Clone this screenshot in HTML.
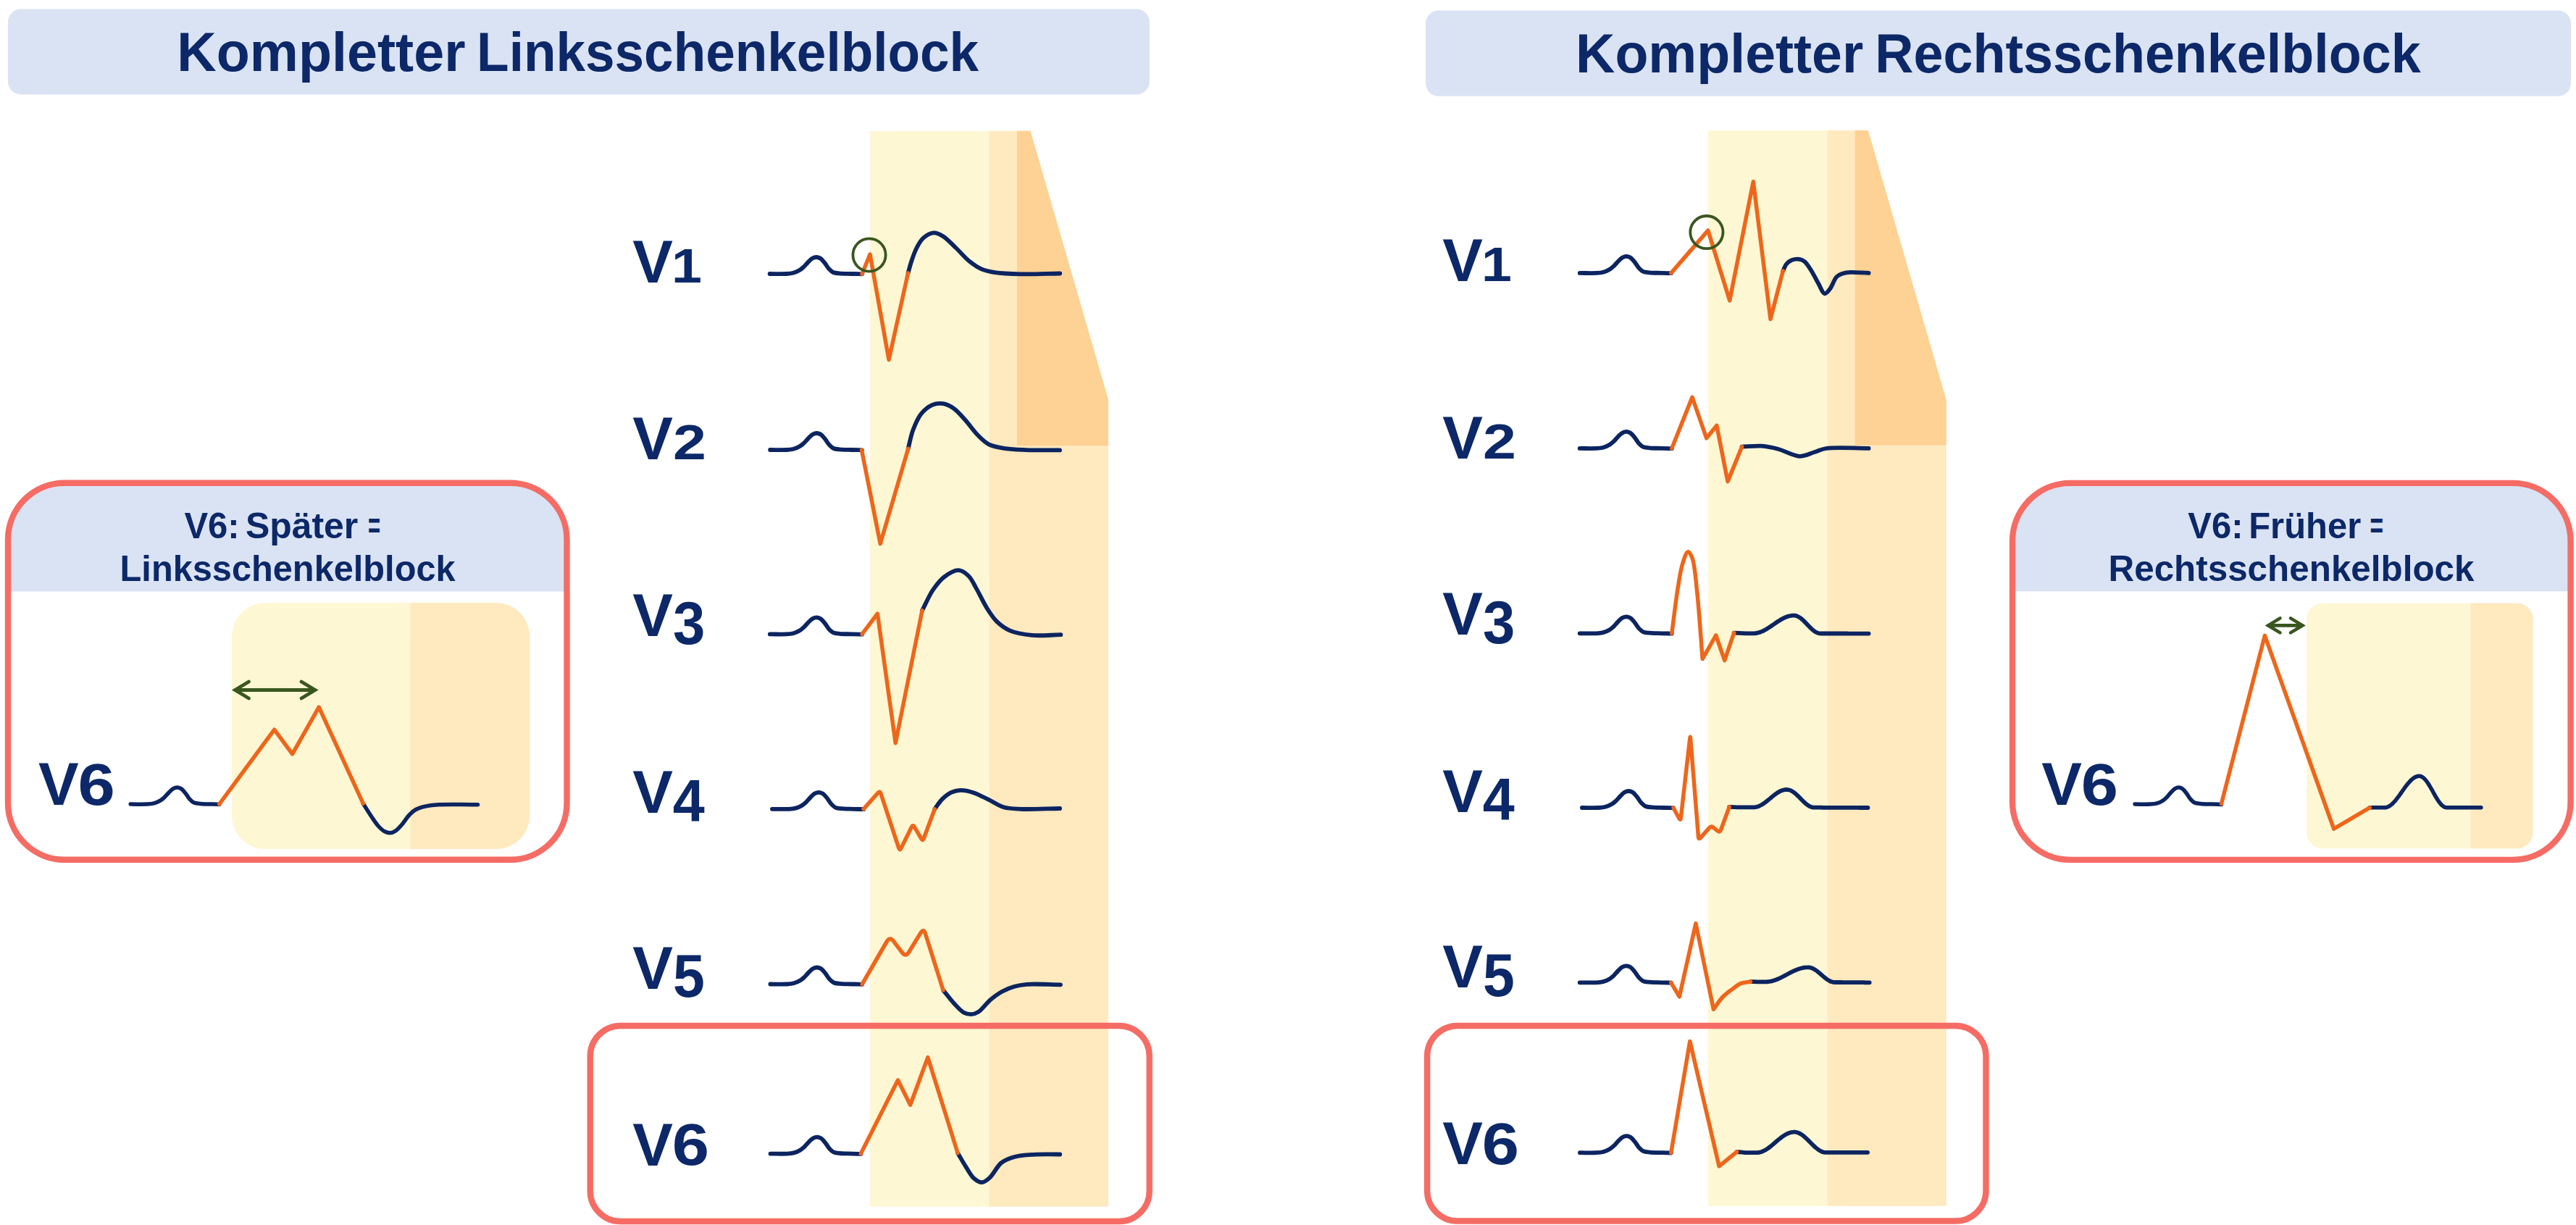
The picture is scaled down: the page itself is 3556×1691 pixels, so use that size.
<!DOCTYPE html>
<html><head><meta charset="utf-8"><title>Schenkelblock</title>
<style>html,body{margin:0;padding:0;background:#fff;width:3556px;height:1691px;overflow:hidden}svg{display:block}text{font-family:"Liberation Sans",sans-serif;font-weight:bold}</style>
</head><body>
<svg width="3556" height="1691" viewBox="0 0 3556 1691">
<rect width="3556" height="1691" fill="#ffffff"/>
<rect x="11" y="12.4" width="1575.8" height="118" rx="18" fill="#dae3f3"/>
<rect x="1968" y="14.4" width="1581" height="118.4" rx="18" fill="#dae3f3"/>
<rect x="1201" y="180.8" width="164.5" height="1485.0" fill="#fef7d4"/>
<polygon points="1365.5,180.8 1422.4,180.8 1530,552 1530,1665.8 1365.5,1665.8" fill="#ffe9bf"/>
<polygon points="1404,180.8 1422.4,180.8 1530,552 1530,615.3 1404,615.3" fill="#fed194"/>
<rect x="2358" y="180" width="164.4000000000001" height="1484.8" fill="#fef7d4"/>
<polygon points="2522.4,180 2578.7,180 2686.8,552.6 2686.8,1664.8 2522.4,1664.8" fill="#ffe9bf"/>
<polygon points="2560.6,180 2578.7,180 2686.8,552.6 2686.8,614.6 2560.6,614.6" fill="#fed194"/>
<clipPath id="cl"><rect x="11" y="666.7" width="771.5" height="520" rx="78"/></clipPath>
<clipPath id="cr"><rect x="2778" y="666.9" width="770.6" height="520" rx="80"/></clipPath>
<rect x="11" y="666.7" width="771.5" height="520" rx="78" fill="#fff"/>
<rect x="0" y="650" width="800" height="166.5" fill="#dae3f3" clip-path="url(#cl)"/>
<rect x="11" y="666.7" width="771.5" height="520" rx="78" fill="none" stroke="#f56c65" stroke-width="8.4"/>
<rect x="320" y="832.3" width="411" height="339.7" rx="46" fill="#fef7d4"/>
<path d="M566.3 832.3 H685 A46 46 0 0 1 731 878.3 V1126 A46 46 0 0 1 685 1172 H566.3 Z" fill="#ffe9bf"/>
<rect x="2778" y="666.9" width="770.6" height="520" rx="80" fill="#fff"/>
<rect x="2760" y="650" width="800" height="166.3" fill="#dae3f3" clip-path="url(#cr)"/>
<rect x="2778" y="666.9" width="770.6" height="520" rx="80" fill="none" stroke="#f56c65" stroke-width="8.4"/>
<rect x="3184.2" y="832.7" width="312.3" height="338.6" rx="22" fill="#fef7d4"/>
<path d="M3410.5 832.7 H3474.5 A22 22 0 0 1 3496.5 854.7 V1149.3 A22 22 0 0 1 3474.5 1171.3 H3410.5 Z" fill="#ffe9bf"/>
<rect x="814.7" y="1416" width="772" height="270" rx="42" fill="none" stroke="#f56c65" stroke-width="8.4"/><rect x="1970.1" y="1416" width="771.4" height="269.5" rx="42" fill="none" stroke="#f56c65" stroke-width="8.4"/>
<path d="M1062.6 378 C1070.3 378 1079.6 378.4 1085.6 378 C1089.4 377.8 1091.9 377.6 1094.9 376.8 C1097.9 376 1101.1 374.6 1103.6 373.1 C1105.8 371.8 1107.5 370.2 1109.4 368.5 C1111.4 366.6 1113.3 364.1 1115.3 362.1 C1117.2 360.2 1119 358 1121.1 356.8 C1123.1 355.7 1125.5 354.9 1127.5 355 C1129.3 355.1 1131 355.7 1132.7 356.8 C1134.8 358.2 1136.7 360.9 1138.6 363.2 C1140.6 365.7 1142.3 369.1 1144.4 371.3 C1146.2 373.2 1147.9 375 1150.2 376 C1152.7 377.1 1155.5 377.1 1158.9 377.4 C1163.6 377.9 1170.2 377.8 1175.6 378 C1180.6 378.1 1185.2 378.2 1190 378.3" fill="none" stroke="#0c2460" stroke-width="5.8" stroke-linecap="round" stroke-linejoin="round"/>
<path d="M1253.5 377 C1255.1 371.3 1256.5 365.7 1258.4 360 C1260.4 354 1262.7 347.4 1265.5 342 C1268.1 337 1270.6 332 1274.5 328.6 C1278.4 325.2 1284.2 321.7 1288.9 321.4 C1293.2 321.2 1297.2 323.4 1301.5 326 C1307.3 329.5 1313.5 336.4 1319.4 342 C1325.5 347.7 1331.1 354.9 1337.4 360 C1343.2 364.7 1349.2 369 1355.4 371.7 C1361.2 374.2 1366.2 375.1 1373.3 376.2 C1383.2 377.7 1396.1 378.1 1409.3 378.4 C1425.5 378.8 1445.2 377.8 1463.2 377.5" fill="none" stroke="#0c2460" stroke-width="5.8" stroke-linecap="round" stroke-linejoin="round"/>
<path d="M1190 378.2 L1201 351 L1227 496.6 L1253.5 377" fill="none" stroke="#ee661a" stroke-width="5.5" stroke-linecap="round" stroke-linejoin="round"/>
<path d="M1063.1 621 C1070.8 621 1080.1 621.4 1086.1 621 C1089.9 620.8 1092.4 620.6 1095.4 619.8 C1098.4 619 1101.6 617.6 1104.1 616.1 C1106.3 614.8 1108 613.2 1109.9 611.5 C1111.9 609.6 1113.8 607.1 1115.8 605.1 C1117.7 603.2 1119.5 601 1121.6 599.8 C1123.6 598.7 1126 597.9 1128 598 C1129.8 598.1 1131.5 598.7 1133.2 599.8 C1135.3 601.2 1137.2 603.9 1139.1 606.2 C1141.1 608.7 1142.8 612.1 1144.9 614.3 C1146.7 616.2 1148.4 618 1150.7 619 C1153.2 620.1 1156 620.1 1159.4 620.4 C1164.1 620.9 1170.8 620.8 1176.1 621 C1180.9 621.1 1185.3 621.2 1189.9 621.3" fill="none" stroke="#0c2460" stroke-width="5.8" stroke-linecap="round" stroke-linejoin="round"/>
<path d="M1253.7 619.2 C1255.9 610.7 1257.3 601.9 1260.3 593.8 C1263.3 585.9 1266.8 577.3 1271.6 571.3 C1275.8 566.1 1281.3 561.4 1286.6 559.1 C1291.3 557.1 1296.7 556.5 1301.6 557.2 C1306.7 557.9 1311.9 560.6 1316.6 563.8 C1322 567.5 1326.4 573.2 1331.6 578.8 C1337.7 585.4 1344.2 595.2 1350.4 601.3 C1355.4 606.3 1359.5 610.6 1365.4 613.6 C1371.9 616.8 1380 617.9 1388 619.2 C1396.8 620.6 1405.5 620.7 1416.1 621.1 C1429.7 621.6 1447.4 621.3 1463 621.4" fill="none" stroke="#0c2460" stroke-width="5.8" stroke-linecap="round" stroke-linejoin="round"/>
<path d="M1189.5 621.3 L1215.2 750.6 L1253.7 619.2" fill="none" stroke="#ee661a" stroke-width="5.5" stroke-linecap="round" stroke-linejoin="round"/>
<path d="M1062.8 875.4 C1070.5 875.4 1079.8 875.8 1085.8 875.4 C1089.6 875.2 1092.1 875 1095.1 874.2 C1098.1 873.4 1101.3 872 1103.8 870.5 C1106 869.2 1107.7 867.6 1109.6 865.9 C1111.6 864 1113.5 861.5 1115.5 859.5 C1117.4 857.6 1119.2 855.4 1121.3 854.2 C1123.3 853.1 1125.7 852.3 1127.7 852.4 C1129.5 852.5 1131.2 853.1 1132.9 854.2 C1135 855.6 1136.9 858.3 1138.8 860.6 C1140.8 863.1 1142.5 866.5 1144.6 868.7 C1146.4 870.6 1148.1 872.4 1150.4 873.4 C1152.9 874.5 1155.7 874.5 1159.1 874.8 C1163.8 875.3 1170.5 875.2 1175.8 875.4 C1180.7 875.5 1185.3 875.6 1190 875.7" fill="none" stroke="#0c2460" stroke-width="5.8" stroke-linecap="round" stroke-linejoin="round"/>
<path d="M1273 842.7 C1278 833.2 1282.4 822.2 1288 814.1 C1292.8 807.2 1297.5 800.9 1303.5 796.4 C1309.3 792 1317.4 787 1323.3 787.2 C1328.3 787.4 1333.1 791.3 1337 795 C1341.4 799.2 1343.8 805.5 1347.5 811.9 C1352.3 820.1 1357.7 832.3 1363 840.5 C1367.3 847.3 1371 853.2 1376.2 858.2 C1381.3 863.1 1386.8 867.3 1393.8 870.3 C1402.4 874 1413.7 875.8 1424.7 876.9 C1437 878.1 1451.2 876.4 1464.4 876.2" fill="none" stroke="#0c2460" stroke-width="5.8" stroke-linecap="round" stroke-linejoin="round"/>
<path d="M1190 875.4 L1211.3 847.1 L1236.2 1025.7 L1273 842.7" fill="none" stroke="#ee661a" stroke-width="5.5" stroke-linecap="round" stroke-linejoin="round"/>
<path d="M1065.9 1116.8 C1073.6 1116.8 1082.9 1117.2 1088.9 1116.8 C1092.7 1116.6 1095.2 1116.4 1098.2 1115.6 C1101.2 1114.8 1104.4 1113.4 1106.9 1111.9 C1109.1 1110.6 1110.8 1109 1112.7 1107.3 C1114.7 1105.4 1116.6 1102.9 1118.6 1100.9 C1120.5 1099 1122.3 1096.8 1124.4 1095.6 C1126.4 1094.5 1128.8 1093.7 1130.8 1093.8 C1132.6 1093.9 1134.3 1094.5 1136 1095.6 C1138.1 1097 1140 1099.7 1141.9 1102 C1143.9 1104.5 1145.6 1107.9 1147.7 1110.1 C1149.5 1112 1151.2 1113.8 1153.5 1114.8 C1156 1115.9 1158.8 1115.9 1162.2 1116.2 C1166.9 1116.7 1173.7 1116.6 1178.9 1116.8 C1183.5 1116.9 1187.6 1117 1192 1117.1" fill="none" stroke="#0c2460" stroke-width="5.8" stroke-linecap="round" stroke-linejoin="round"/>
<path d="M1290.4 1116.8 C1293.7 1112.3 1296.5 1107.3 1300.4 1103.4 C1304.3 1099.6 1309.1 1095.8 1313.7 1093.7 C1317.8 1091.9 1321.7 1091 1326.3 1090.9 C1331.6 1090.8 1337.9 1092.3 1343.8 1094.2 C1350.4 1096.3 1357 1100.1 1363.8 1103.4 C1370.9 1106.8 1377.9 1112.1 1385.5 1114.3 C1393 1116.5 1399.5 1116.4 1408.9 1116.8 C1423.2 1117.5 1445 1116.3 1463.1 1116" fill="none" stroke="#0c2460" stroke-width="5.8" stroke-linecap="round" stroke-linejoin="round"/>
<path d="M1192 1116.8 L1211.9 1094.6 Q1214.6 1091.6 1215.9 1095.4 L1240.7 1170.7 Q1242 1174.5 1243.8 1170.9 L1258.5 1141.6 Q1260.3 1138 1262.3 1141.5 L1271.7 1157.7 Q1273.7 1161.2 1275.1 1157.5 L1290.4 1116.8" fill="none" stroke="#ee661a" stroke-width="5.5" stroke-linecap="round" stroke-linejoin="round"/>
<path d="M1063.4 1358.5 C1071.1 1358.5 1080.4 1358.9 1086.4 1358.5 C1090.2 1358.3 1092.7 1358.1 1095.7 1357.3 C1098.7 1356.5 1101.9 1355.1 1104.4 1353.6 C1106.6 1352.3 1108.3 1350.7 1110.2 1349 C1112.2 1347.1 1114.1 1344.6 1116.1 1342.6 C1118 1340.7 1119.8 1338.5 1121.9 1337.3 C1123.9 1336.2 1126.3 1335.4 1128.3 1335.5 C1130.1 1335.6 1131.8 1336.2 1133.5 1337.3 C1135.6 1338.7 1137.5 1341.4 1139.4 1343.7 C1141.4 1346.2 1143.1 1349.6 1145.2 1351.8 C1147 1353.7 1148.7 1355.5 1151 1356.5 C1153.5 1357.6 1156.3 1357.6 1159.7 1357.9 C1164.4 1358.4 1171.1 1358.3 1176.4 1358.5 C1181.2 1358.6 1185.6 1358.7 1190.2 1358.8" fill="none" stroke="#0c2460" stroke-width="5.8" stroke-linecap="round" stroke-linejoin="round"/>
<path d="M1302 1366.8 C1307 1372.9 1312.1 1379.8 1317.1 1385.2 C1321.5 1389.9 1326 1395.3 1330.4 1397.7 C1333.7 1399.5 1337.1 1400.3 1340.4 1400.2 C1343.8 1400.1 1347 1399.1 1350.5 1396.9 C1355.7 1393.7 1361.3 1385.1 1367.1 1380.2 C1372.5 1375.7 1378 1371.6 1383.8 1368.5 C1389.2 1365.6 1394.8 1363.4 1400.5 1361.8 C1406 1360.2 1410.2 1359.4 1417.2 1358.8 C1428.8 1357.8 1448.4 1359.1 1464 1359.3" fill="none" stroke="#0c2460" stroke-width="5.8" stroke-linecap="round" stroke-linejoin="round"/>
<path d="M1190.2 1358.5 L1224.3 1299.5 Q1228.3 1292.6 1233.2 1298.9 L1245.4 1315 Q1250.3 1321.3 1254.5 1314.5 L1270.8 1288 Q1275 1281.2 1277.4 1288.8 L1302 1366.8" fill="none" stroke="#ee661a" stroke-width="5.5" stroke-linecap="round" stroke-linejoin="round"/>
<path d="M1063.5 1592.6 C1071.2 1592.6 1080.5 1593 1086.5 1592.6 C1090.3 1592.4 1092.8 1592.2 1095.8 1591.4 C1098.8 1590.6 1102 1589.2 1104.5 1587.7 C1106.7 1586.4 1108.4 1584.8 1110.3 1583.1 C1112.3 1581.2 1114.2 1578.7 1116.2 1576.7 C1118.1 1574.8 1119.9 1572.6 1122 1571.4 C1124 1570.3 1126.4 1569.5 1128.4 1569.6 C1130.2 1569.7 1131.9 1570.3 1133.6 1571.4 C1135.7 1572.8 1137.6 1575.5 1139.5 1577.8 C1141.5 1580.3 1143.2 1583.7 1145.3 1585.9 C1147.1 1587.8 1148.8 1589.6 1151.1 1590.6 C1153.6 1591.7 1156.4 1591.7 1159.8 1592 C1164.5 1592.5 1171.4 1592.4 1176.5 1592.6 C1180.8 1592.7 1184.4 1592.8 1188.3 1592.9" fill="none" stroke="#0c2460" stroke-width="5.8" stroke-linecap="round" stroke-linejoin="round"/>
<path d="M1322.1 1591.7 C1326 1598.3 1329.9 1605.3 1333.8 1611.4 C1337.4 1616.9 1340.5 1623.2 1344.6 1626.7 C1347.9 1629.5 1351.8 1632.2 1355.4 1632.1 C1359 1632 1362.5 1629 1366.1 1625.8 C1371.4 1621.2 1376.1 1610 1382.3 1605.1 C1387.7 1600.9 1393.5 1598.9 1400.3 1597 C1408.2 1594.8 1417.6 1594.4 1427.2 1593.8 C1438.3 1593.1 1451.2 1593.6 1463.2 1593.5" fill="none" stroke="#0c2460" stroke-width="5.8" stroke-linecap="round" stroke-linejoin="round"/>
<path d="M1188.3 1592.6 L1239.5 1491 L1256.6 1525.2 L1280.8 1459.6 L1322.1 1591.7" fill="none" stroke="#ee661a" stroke-width="5.5" stroke-linecap="round" stroke-linejoin="round"/>
<path d="M2180.8 376.9 C2188.5 376.9 2197.8 377.3 2203.8 376.9 C2207.6 376.7 2210.1 376.5 2213.1 375.7 C2216.1 374.9 2219.3 373.5 2221.8 372 C2224 370.7 2225.7 369.1 2227.6 367.4 C2229.6 365.5 2231.5 363 2233.5 361 C2235.4 359.1 2237.2 356.9 2239.3 355.7 C2241.3 354.6 2243.7 353.8 2245.7 353.9 C2247.5 354 2249.2 354.6 2250.9 355.7 C2253 357.1 2254.9 359.8 2256.8 362.1 C2258.8 364.6 2260.5 368 2262.6 370.2 C2264.4 372.1 2266.1 373.9 2268.4 374.9 C2270.9 376 2273.7 376 2277.1 376.3 C2281.8 376.8 2288.6 376.7 2293.8 376.9 C2298.4 377 2302.5 377.1 2306.9 377.2" fill="none" stroke="#0c2460" stroke-width="5.8" stroke-linecap="round" stroke-linejoin="round"/>
<path d="M2461.3 374 C2462.9 370.8 2463.9 367 2466 364.5 C2467.9 362.2 2470.2 360.3 2473 359.2 C2476.1 357.9 2480.8 357.4 2484 357.9 C2486.7 358.3 2488.7 359.2 2491 361 C2494.2 363.5 2497.1 368.5 2500 373 C2503.4 378.3 2506.7 385.4 2510 391 C2513 396.1 2515.9 404.9 2519 405.3 C2521.3 405.6 2523.7 401.9 2526 399 C2529.3 394.9 2531.8 385.6 2535.5 382 C2538.1 379.5 2541 378.5 2544 377.5 C2547.1 376.5 2549.9 376.1 2554 375.9 C2560.5 375.5 2571.1 376.6 2579.6 376.9" fill="none" stroke="#0c2460" stroke-width="5.8" stroke-linecap="round" stroke-linejoin="round"/>
<path d="M2306.9 376.9 L2357.8 318.1 L2387.7 414.9 L2420.3 250.8 L2444 440.6 L2461.3 374" fill="none" stroke="#ee661a" stroke-width="5.5" stroke-linecap="round" stroke-linejoin="round"/>
<path d="M2180.7 618.9 C2188.4 618.9 2197.7 619.3 2203.7 618.9 C2207.5 618.7 2210 618.5 2213 617.7 C2216 616.9 2219.2 615.5 2221.7 614 C2223.9 612.7 2225.6 611.1 2227.5 609.4 C2229.5 607.5 2231.4 605 2233.4 603 C2235.3 601.1 2237.1 598.9 2239.2 597.7 C2241.2 596.6 2243.6 595.8 2245.6 595.9 C2247.4 596 2249.1 596.6 2250.8 597.7 C2252.9 599.1 2254.8 601.8 2256.7 604.1 C2258.7 606.6 2260.4 610 2262.5 612.2 C2264.3 614.1 2266 615.9 2268.3 616.9 C2270.8 618 2273.6 618 2277 618.3 C2281.7 618.8 2288.4 618.7 2293.7 618.9 C2298.6 619 2303.1 619.1 2307.8 619.2" fill="none" stroke="#0c2460" stroke-width="5.8" stroke-linecap="round" stroke-linejoin="round"/>
<path d="M2404.6 616.7 C2413.6 616.4 2423 615.1 2431.7 615.7 C2439.8 616.3 2446.9 617.9 2455 620 C2464.2 622.4 2475.1 629.5 2484 629.8 C2491.5 630 2498.5 625.9 2505 624 C2510.7 622.3 2513.8 620.1 2520.9 619 C2534.2 616.9 2560 618.9 2579.6 618.9" fill="none" stroke="#0c2460" stroke-width="5.8" stroke-linecap="round" stroke-linejoin="round"/>
<path d="M2307.8 618.9 L2336 548.3 L2355.7 604.8 L2369.8 587.4 L2385 664.6 L2404.6 616.7" fill="none" stroke="#ee661a" stroke-width="5.5" stroke-linecap="round" stroke-linejoin="round"/>
<path d="M2180.7 874.3 C2188.4 874.3 2197.7 874.7 2203.7 874.3 C2207.5 874.1 2210 873.9 2213 873.1 C2216 872.3 2219.2 870.9 2221.7 869.4 C2223.9 868.1 2225.6 866.5 2227.5 864.8 C2229.5 862.9 2231.4 860.4 2233.4 858.4 C2235.3 856.5 2237.1 854.3 2239.2 853.1 C2241.2 852 2243.6 851.2 2245.6 851.3 C2247.4 851.4 2249.1 852 2250.8 853.1 C2252.9 854.5 2254.8 857.2 2256.7 859.5 C2258.7 862 2260.4 865.4 2262.5 867.6 C2264.3 869.5 2266 871.3 2268.3 872.3 C2270.8 873.4 2273.6 873.4 2277 873.7 C2281.7 874.2 2288.4 874.1 2293.7 874.3 C2298.6 874.4 2303.1 874.5 2307.8 874.6" fill="none" stroke="#0c2460" stroke-width="5.8" stroke-linecap="round" stroke-linejoin="round"/>
<path d="M2393.7 873.7 C2399.1 873.9 2407.2 874.2 2410 874.3 C2411 874.3 2411.3 874.3 2412 874.3 C2412.7 874.3 2413.3 874.3 2414 874.3 C2414.7 874.3 2415.3 874.3 2416 874.3 C2416.7 874.3 2417.3 874.3 2418 874.3 C2418.7 874.3 2419.3 874.3 2420 874.3 C2420.7 874.3 2421.3 874.3 2422 874.3 C2422.7 874.2 2423.3 874.2 2424 874.1 C2424.7 874 2425.3 873.8 2426 873.7 C2426.7 873.6 2427.3 873.4 2428 873.2 C2428.7 873 2429.3 872.8 2430 872.5 C2430.7 872.3 2431.3 872 2432 871.8 C2432.7 871.5 2433.3 871.2 2434 870.9 C2434.7 870.5 2435.3 870.2 2436 869.8 C2436.7 869.5 2437.3 869.1 2438 868.7 C2438.7 868.3 2439.3 867.9 2440 867.5 C2440.7 867.1 2441.3 866.7 2442 866.2 C2442.7 865.8 2443.3 865.4 2444 864.9 C2444.7 864.5 2445.3 864 2446 863.6 C2446.7 863.1 2447.3 862.6 2448 862.2 C2448.7 861.7 2449.3 861.2 2450 860.8 C2450.7 860.3 2451.3 859.9 2452 859.4 C2452.7 859 2453.3 858.5 2454 858.1 C2454.7 857.6 2455.3 857.2 2456 856.8 C2456.7 856.4 2457.3 856 2458 855.6 C2458.7 855.2 2459.3 854.8 2460 854.4 C2460.7 854.1 2461.3 853.7 2462 853.4 C2462.7 853 2463.3 852.7 2464 852.4 C2464.7 852.1 2465.3 851.9 2466 851.6 C2466.7 851.4 2467.3 851.1 2468 850.9 C2468.7 850.7 2469.3 850.5 2470 850.4 C2470.7 850.2 2471.3 850.1 2472 850 C2472.7 849.9 2473.3 849.8 2474 849.7 C2474.7 849.7 2475.3 849.6 2476 849.6 C2476.7 849.6 2477.3 849.6 2478 849.7 C2478.7 849.9 2479.3 850 2480 850.2 C2480.7 850.4 2481.3 850.7 2482 851.1 C2482.7 851.4 2483.3 851.8 2484 852.2 C2484.7 852.6 2485.3 853.1 2486 853.6 C2486.7 854.1 2487.3 854.7 2488 855.3 C2488.7 855.9 2489.3 856.5 2490 857.1 C2490.7 857.8 2491.3 858.4 2492 859.1 C2492.7 859.8 2493.3 860.5 2494 861.2 C2494.7 861.9 2495.3 862.6 2496 863.3 C2496.7 864 2497.3 864.7 2498 865.4 C2498.7 866.1 2499.3 866.7 2500 867.4 C2500.7 868 2501.3 868.6 2502 869.2 C2502.7 869.7 2503.3 870.3 2504 870.8 C2504.7 871.3 2505.3 871.8 2506 872.2 C2506.7 872.6 2507.3 872.9 2508 873.2 C2508.7 873.5 2509.3 873.8 2510 874 C2510.7 874.2 2511.3 874.3 2512 874.4 C2512.7 874.5 2513.3 874.5 2514 874.5 C2514.7 874.5 2515.3 874.5 2516 874.5 C2516.7 874.5 2517.3 874.5 2518 874.5 C2518.7 874.5 2519.3 874.5 2520 874.5 C2520.7 874.5 2521.3 874.5 2522 874.5 C2522.7 874.5 2523.3 874.5 2524 874.5 C2524.7 874.5 2525.3 874.5 2526 874.5 C2526.7 874.5 2527.3 874.5 2528 874.5 C2528.7 874.5 2529.3 874.5 2530 874.5 C2530.7 874.5 2531.3 874.5 2532 874.5 C2532.7 874.5 2533.3 874.5 2534 874.5 C2534.7 874.5 2535.3 874.5 2536 874.5 C2536.7 874.5 2537.3 874.5 2538 874.5 C2538.7 874.5 2539.3 874.5 2540 874.5 C2540.7 874.5 2541.3 874.5 2542 874.5 C2542.7 874.5 2543.3 874.5 2544 874.5 C2544.7 874.5 2545.3 874.5 2546 874.5 C2546.7 874.5 2547.3 874.5 2548 874.5 C2548.7 874.5 2549.3 874.5 2550 874.5 C2550.7 874.5 2551.3 874.6 2552 874.6 C2552.7 874.6 2553.3 874.6 2554 874.6 C2554.7 874.6 2555.3 874.6 2556 874.6 C2556.7 874.6 2557.3 874.6 2558 874.6 C2558.7 874.6 2559.3 874.6 2560 874.6 C2560.7 874.6 2561.3 874.6 2562 874.6 C2562.7 874.6 2563.3 874.6 2564 874.6 C2564.7 874.6 2565.3 874.6 2566 874.6 C2566.7 874.6 2567.3 874.6 2568 874.6 C2568.7 874.6 2569.3 874.6 2570 874.6 C2570.7 874.6 2571.3 874.6 2572 874.6 C2572.7 874.6 2573.3 874.6 2574 874.6 C2574.7 874.6 2575.3 874.6 2576 874.6 C2576.7 874.6 2577.4 874.6 2578 874.6 C2578.6 874.6 2579.1 874.6 2579.6 874.6" fill="none" stroke="#0c2460" stroke-width="5.8" stroke-linecap="round" stroke-linejoin="round"/>
<path d="M2307.8 874.3 C2310.7 852.7 2313.5 827.5 2316.5 809.6 C2318.6 796.8 2320.1 785.7 2323 777 C2325 770.8 2327.7 761.9 2330.2 761.7 C2332.1 761.5 2334.4 766.1 2336.1 770.4 C2339.6 779.4 2340.6 798.1 2342.6 816 C2345.5 841.6 2347.7 878.4 2350.2 909.6 L2368.7 877 L2380.7 911.7 L2393.7 873.7" fill="none" stroke="#ee661a" stroke-width="5.5" stroke-linecap="round" stroke-linejoin="round"/>
<path d="M2183.9 1115 C2191.6 1115 2200.9 1115.4 2206.9 1115 C2210.7 1114.8 2213.2 1114.6 2216.2 1113.8 C2219.2 1113 2222.4 1111.6 2224.9 1110.1 C2227.1 1108.8 2228.8 1107.2 2230.7 1105.5 C2232.7 1103.6 2234.6 1101.1 2236.6 1099.1 C2238.5 1097.2 2240.3 1095 2242.4 1093.8 C2244.4 1092.7 2246.8 1091.9 2248.8 1092 C2250.6 1092.1 2252.3 1092.7 2254 1093.8 C2256.1 1095.2 2258 1097.9 2259.9 1100.2 C2261.9 1102.7 2263.6 1106.1 2265.7 1108.3 C2267.5 1110.2 2269.2 1112 2271.5 1113 C2274 1114.1 2276.8 1114.1 2280.2 1114.4 C2284.9 1114.9 2291.7 1114.8 2296.9 1115 C2301.5 1115.1 2305.6 1115.2 2310 1115.3" fill="none" stroke="#0c2460" stroke-width="5.8" stroke-linecap="round" stroke-linejoin="round"/>
<path d="M2387.2 1113.9 C2391.5 1114 2397.6 1114.3 2400 1114.3 C2401 1114.3 2401.3 1114.3 2402 1114.3 C2402.7 1114.3 2403.3 1114.3 2404 1114.3 C2404.7 1114.3 2405.3 1114.3 2406 1114.3 C2406.7 1114.3 2407.3 1114.3 2408 1114.3 C2408.7 1114.3 2409.3 1114.3 2410 1114.3 C2410.7 1114.3 2411.3 1114.3 2412 1114.3 C2412.7 1114.3 2413.3 1114.4 2414 1114.4 C2414.7 1114.4 2415.3 1114.4 2416 1114.4 C2416.7 1114.4 2417.3 1114.4 2418 1114.4 C2418.7 1114.4 2419.3 1114.4 2420 1114.4 C2420.7 1114.4 2421.3 1114.4 2422 1114.3 C2422.7 1114.3 2423.3 1114.2 2424 1114 C2424.7 1113.9 2425.3 1113.7 2426 1113.5 C2426.7 1113.3 2427.3 1113.1 2428 1112.8 C2428.7 1112.6 2429.3 1112.2 2430 1111.9 C2430.7 1111.6 2431.3 1111.2 2432 1110.8 C2432.7 1110.4 2433.3 1110 2434 1109.6 C2434.7 1109.1 2435.3 1108.7 2436 1108.2 C2436.7 1107.7 2437.3 1107.2 2438 1106.7 C2438.7 1106.1 2439.3 1105.6 2440 1105.1 C2440.7 1104.5 2441.3 1104 2442 1103.4 C2442.7 1102.9 2443.3 1102.3 2444 1101.8 C2444.7 1101.2 2445.3 1100.6 2446 1100.1 C2446.7 1099.5 2447.3 1099 2448 1098.5 C2448.7 1097.9 2449.3 1097.4 2450 1096.9 C2450.7 1096.4 2451.3 1095.9 2452 1095.5 C2452.7 1095 2453.3 1094.5 2454 1094.1 C2454.7 1093.7 2455.3 1093.3 2456 1092.9 C2456.7 1092.6 2457.3 1092.2 2458 1091.9 C2458.7 1091.6 2459.3 1091.4 2460 1091.1 C2460.7 1090.9 2461.3 1090.7 2462 1090.5 C2462.7 1090.4 2463.3 1090.2 2464 1090.1 C2464.7 1090 2465.3 1090 2466 1090 C2466.7 1090 2467.3 1090 2468 1090.1 C2468.7 1090.1 2469.3 1090.3 2470 1090.5 C2470.7 1090.7 2471.3 1090.9 2472 1091.2 C2472.7 1091.5 2473.3 1091.9 2474 1092.3 C2474.7 1092.7 2475.3 1093.1 2476 1093.6 C2476.7 1094.1 2477.3 1094.6 2478 1095.2 C2478.7 1095.7 2479.3 1096.3 2480 1096.9 C2480.7 1097.5 2481.3 1098.2 2482 1098.8 C2482.7 1099.5 2483.3 1100.1 2484 1100.8 C2484.7 1101.5 2485.3 1102.2 2486 1102.8 C2486.7 1103.5 2487.3 1104.2 2488 1104.9 C2488.7 1105.5 2489.3 1106.2 2490 1106.8 C2490.7 1107.5 2491.3 1108.1 2492 1108.7 C2492.7 1109.2 2493.3 1109.8 2494 1110.3 C2494.7 1110.8 2495.3 1111.3 2496 1111.8 C2496.7 1112.2 2497.3 1112.6 2498 1113 C2498.7 1113.3 2499.3 1113.6 2500 1113.9 C2500.7 1114.1 2501.3 1114.3 2502 1114.4 C2502.7 1114.6 2503.3 1114.7 2504 1114.7 C2504.7 1114.7 2505.3 1114.7 2506 1114.7 C2506.7 1114.7 2507.3 1114.7 2508 1114.7 C2508.7 1114.7 2509.3 1114.7 2510 1114.7 C2510.7 1114.7 2511.3 1114.7 2512 1114.7 C2512.7 1114.7 2513.3 1114.7 2514 1114.7 C2514.7 1114.7 2515.3 1114.8 2516 1114.8 C2516.7 1114.8 2517.3 1114.8 2518 1114.8 C2518.7 1114.8 2519.3 1114.8 2520 1114.8 C2520.7 1114.8 2521.3 1114.8 2522 1114.8 C2522.7 1114.8 2523.3 1114.8 2524 1114.8 C2524.7 1114.8 2525.3 1114.8 2526 1114.8 C2526.7 1114.8 2527.3 1114.8 2528 1114.8 C2528.7 1114.8 2529.3 1114.8 2530 1114.8 C2530.7 1114.8 2531.3 1114.8 2532 1114.8 C2532.7 1114.8 2533.3 1114.8 2534 1114.8 C2534.7 1114.8 2535.3 1114.8 2536 1114.8 C2536.7 1114.8 2537.3 1114.8 2538 1114.8 C2538.7 1114.8 2539.3 1114.8 2540 1114.8 C2540.7 1114.9 2541.3 1114.9 2542 1114.9 C2542.7 1114.9 2543.3 1114.9 2544 1114.9 C2544.7 1114.9 2545.3 1114.9 2546 1114.9 C2546.7 1114.9 2547.3 1114.9 2548 1114.9 C2548.7 1114.9 2549.3 1114.9 2550 1114.9 C2550.7 1114.9 2551.3 1114.9 2552 1114.9 C2552.7 1114.9 2553.3 1114.9 2554 1114.9 C2554.7 1114.9 2555.3 1114.9 2556 1114.9 C2556.7 1114.9 2557.3 1114.9 2558 1114.9 C2558.7 1114.9 2559.3 1114.9 2560 1114.9 C2560.7 1114.9 2561.3 1114.9 2562 1114.9 C2562.7 1114.9 2563.3 1114.9 2564 1114.9 C2564.7 1114.9 2565.3 1114.9 2566 1115 C2566.7 1115 2567.3 1115 2568 1115 C2568.7 1115 2569.3 1115 2570 1115 C2570.7 1115 2571.3 1115 2572 1115 C2572.7 1115 2573.3 1115 2574 1115 C2574.7 1115 2575.3 1115 2576 1115 C2576.7 1115 2577.6 1115 2578 1115 C2578.2 1115 2578.3 1115 2578.5 1115" fill="none" stroke="#0c2460" stroke-width="5.8" stroke-linecap="round" stroke-linejoin="round"/>
<path d="M2310 1115 L2317.9 1129.7 Q2319.8 1133.2 2320.3 1129.2 L2332.8 1019.3 Q2333.3 1015.3 2333.6 1019.3 L2344.5 1155.3 Q2344.8 1159.3 2347.5 1156.3 L2359.5 1142.8 Q2362.2 1139.8 2365.3 1142.3 L2371 1147 Q2374.1 1149.5 2375.5 1145.7 L2387.2 1113.9" fill="none" stroke="#ee661a" stroke-width="5.5" stroke-linecap="round" stroke-linejoin="round"/>
<path d="M2180.7 1356.3 C2188.4 1356.3 2197.7 1356.7 2203.7 1356.3 C2207.5 1356.1 2210 1355.9 2213 1355.1 C2216 1354.3 2219.2 1352.9 2221.7 1351.4 C2223.9 1350.1 2225.6 1348.5 2227.5 1346.8 C2229.5 1344.9 2231.4 1342.4 2233.4 1340.4 C2235.3 1338.5 2237.1 1336.3 2239.2 1335.1 C2241.2 1334 2243.6 1333.2 2245.6 1333.3 C2247.4 1333.4 2249.1 1334 2250.8 1335.1 C2252.9 1336.5 2254.8 1339.2 2256.7 1341.5 C2258.7 1344 2260.4 1347.4 2262.5 1349.6 C2264.3 1351.5 2266 1353.3 2268.3 1354.3 C2270.8 1355.4 2273.6 1355.4 2277 1355.7 C2281.7 1356.2 2288.5 1356.1 2293.7 1356.3 C2298.3 1356.4 2302.4 1356.5 2306.7 1356.6" fill="none" stroke="#0c2460" stroke-width="5.8" stroke-linecap="round" stroke-linejoin="round"/>
<path d="M2416.5 1355.2 C2417.2 1355.2 2417.8 1355.2 2418.5 1355.2 C2419.2 1355.2 2419.8 1355.2 2420.5 1355.2 C2421.2 1355.2 2421.8 1355.2 2422.5 1355.2 C2423.2 1355.2 2423.8 1355.2 2424.5 1355.3 C2425.2 1355.3 2425.8 1355.3 2426.5 1355.3 C2427.2 1355.3 2427.8 1355.3 2428.5 1355.3 C2429.2 1355.3 2429.8 1355.3 2430.5 1355.3 C2431.2 1355.3 2431.8 1355.3 2432.5 1355.3 C2433.2 1355.3 2433.8 1355.3 2434.5 1355.3 C2435.2 1355.3 2435.8 1355.3 2436.5 1355.3 C2437.2 1355.3 2437.8 1355.3 2438.5 1355.3 C2439.2 1355.3 2439.8 1355.2 2440.5 1355.2 C2441.2 1355.1 2441.8 1355 2442.5 1354.9 C2443.2 1354.8 2443.8 1354.7 2444.5 1354.6 C2445.2 1354.4 2445.8 1354.3 2446.5 1354.1 C2447.2 1353.9 2447.8 1353.7 2448.5 1353.5 C2449.2 1353.3 2449.8 1353.1 2450.5 1352.9 C2451.2 1352.6 2451.8 1352.4 2452.5 1352.1 C2453.2 1351.9 2453.8 1351.6 2454.5 1351.3 C2455.2 1351 2455.8 1350.7 2456.5 1350.4 C2457.2 1350.1 2457.8 1349.8 2458.5 1349.4 C2459.2 1349.1 2459.8 1348.8 2460.5 1348.4 C2461.2 1348.1 2461.8 1347.8 2462.5 1347.4 C2463.2 1347.1 2463.8 1346.7 2464.5 1346.4 C2465.2 1346 2465.8 1345.6 2466.5 1345.3 C2467.2 1344.9 2467.8 1344.6 2468.5 1344.2 C2469.2 1343.9 2469.8 1343.5 2470.5 1343.2 C2471.2 1342.8 2471.8 1342.5 2472.5 1342.1 C2473.2 1341.8 2473.8 1341.4 2474.5 1341.1 C2475.2 1340.8 2475.8 1340.5 2476.5 1340.2 C2477.2 1339.9 2477.8 1339.6 2478.5 1339.3 C2479.2 1339 2479.8 1338.7 2480.5 1338.5 C2481.2 1338.2 2481.8 1338 2482.5 1337.7 C2483.2 1337.5 2483.8 1337.3 2484.5 1337.1 C2485.2 1336.9 2485.8 1336.7 2486.5 1336.5 C2487.2 1336.4 2487.8 1336.2 2488.5 1336.1 C2489.2 1335.9 2489.8 1335.8 2490.5 1335.7 C2491.2 1335.6 2491.8 1335.5 2492.5 1335.5 C2493.2 1335.4 2493.8 1335.4 2494.5 1335.4 C2495.2 1335.3 2495.8 1335.3 2496.5 1335.3 C2497.2 1335.4 2497.8 1335.5 2498.5 1335.6 C2499.2 1335.7 2499.8 1335.9 2500.5 1336.1 C2501.2 1336.4 2501.8 1336.6 2502.5 1336.9 C2503.2 1337.2 2503.8 1337.6 2504.5 1338 C2505.2 1338.4 2505.8 1338.8 2506.5 1339.3 C2507.2 1339.7 2507.8 1340.2 2508.5 1340.7 C2509.2 1341.2 2509.8 1341.8 2510.5 1342.3 C2511.2 1342.9 2511.8 1343.4 2512.5 1344 C2513.2 1344.6 2513.8 1345.2 2514.5 1345.7 C2515.2 1346.3 2515.8 1346.9 2516.5 1347.5 C2517.2 1348 2517.8 1348.6 2518.5 1349.2 C2519.2 1349.7 2519.8 1350.2 2520.5 1350.7 C2521.2 1351.2 2521.8 1351.7 2522.5 1352.2 C2523.2 1352.6 2523.8 1353.1 2524.5 1353.4 C2525.2 1353.8 2525.8 1354.2 2526.5 1354.5 C2527.2 1354.8 2527.8 1355 2528.5 1355.2 C2529.2 1355.5 2529.8 1355.6 2530.5 1355.8 C2531.2 1355.9 2531.8 1355.9 2532.5 1356 C2533.2 1356 2533.8 1356 2534.5 1356 C2535.2 1356 2535.8 1356 2536.5 1356 C2537.2 1356 2537.8 1356 2538.5 1356 C2539.2 1356 2539.8 1356 2540.5 1356 C2541.2 1356 2541.8 1356 2542.5 1356 C2543.2 1356 2543.8 1356.1 2544.5 1356.1 C2545.2 1356.1 2545.8 1356.1 2546.5 1356.1 C2547.2 1356.1 2547.8 1356.1 2548.5 1356.1 C2549.2 1356.1 2549.8 1356.1 2550.5 1356.1 C2551.2 1356.1 2551.8 1356.1 2552.5 1356.1 C2553.2 1356.1 2553.8 1356.1 2554.5 1356.1 C2555.2 1356.1 2555.8 1356.1 2556.5 1356.1 C2557.2 1356.1 2557.8 1356.1 2558.5 1356.2 C2559.2 1356.2 2559.8 1356.2 2560.5 1356.2 C2561.2 1356.2 2561.8 1356.2 2562.5 1356.2 C2563.2 1356.2 2563.8 1356.2 2564.5 1356.2 C2565.2 1356.2 2565.8 1356.2 2566.5 1356.2 C2567.2 1356.2 2567.8 1356.2 2568.5 1356.2 C2569.2 1356.2 2569.8 1356.2 2570.5 1356.2 C2571.2 1356.2 2571.8 1356.2 2572.5 1356.2 C2573.2 1356.2 2573.8 1356.3 2574.5 1356.3 C2575.2 1356.3 2575.8 1356.3 2576.5 1356.3 C2577.2 1356.3 2577.8 1356.3 2578.5 1356.3 C2579.2 1356.3 2580.2 1356.3 2580.5 1356.3 C2580.6 1356.3 2580.6 1356.3 2580.7 1356.3" fill="none" stroke="#0c2460" stroke-width="5.8" stroke-linecap="round" stroke-linejoin="round"/>
<path d="M2306.7 1356.3 L2318.3 1375.9 L2340.9 1274.8 L2365.4 1393.3  C2369.4 1387.9 2373 1381.7 2377.4 1377 C2381.4 1372.7 2386 1369.4 2390.4 1366.1 C2394.7 1362.9 2398.9 1359.2 2403.5 1357.4 C2407.7 1355.7 2412.2 1355.9 2416.5 1355.2" fill="none" stroke="#ee661a" stroke-width="5.5" stroke-linecap="round" stroke-linejoin="round"/>
<path d="M2181 1591.2 C2188.7 1591.2 2198 1591.6 2204 1591.2 C2207.8 1591 2210.3 1590.8 2213.3 1590 C2216.3 1589.2 2219.5 1587.8 2222 1586.3 C2224.2 1585 2225.9 1583.4 2227.8 1581.7 C2229.8 1579.8 2231.7 1577.3 2233.7 1575.3 C2235.6 1573.4 2237.4 1571.2 2239.5 1570 C2241.5 1568.9 2243.9 1568.1 2245.9 1568.2 C2247.7 1568.3 2249.4 1568.9 2251.1 1570 C2253.2 1571.4 2255.1 1574.1 2257 1576.4 C2259 1578.9 2260.7 1582.3 2262.8 1584.5 C2264.6 1586.4 2266.3 1588.2 2268.6 1589.2 C2271.1 1590.3 2273.9 1590.3 2277.3 1590.6 C2282 1591.1 2288.8 1591 2294 1591.2 C2298.5 1591.3 2302.5 1591.4 2306.8 1591.5" fill="none" stroke="#0c2460" stroke-width="5.8" stroke-linecap="round" stroke-linejoin="round"/>
<path d="M2397.6 1590 C2401.7 1590.4 2407.6 1591.1 2410 1591.2 C2410.9 1591.2 2411.3 1591.2 2412 1591.2 C2412.7 1591.2 2413.3 1591.2 2414 1591.2 C2414.7 1591.2 2415.3 1591.2 2416 1591.2 C2416.7 1591.2 2417.3 1591.2 2418 1591.2 C2418.7 1591.2 2419.3 1591.2 2420 1591.2 C2420.7 1591.2 2421.3 1591.2 2422 1591.2 C2422.7 1591.2 2423.3 1591.2 2424 1591.2 C2424.7 1591.2 2425.3 1591.2 2426 1591.1 C2426.7 1591.1 2427.3 1591 2428 1590.9 C2428.7 1590.8 2429.3 1590.6 2430 1590.5 C2430.7 1590.3 2431.3 1590.1 2432 1589.8 C2432.7 1589.6 2433.3 1589.3 2434 1589 C2434.7 1588.7 2435.3 1588.4 2436 1588 C2436.7 1587.6 2437.3 1587.3 2438 1586.9 C2438.7 1586.4 2439.3 1586 2440 1585.6 C2440.7 1585.1 2441.3 1584.6 2442 1584.1 C2442.7 1583.6 2443.3 1583.1 2444 1582.6 C2444.7 1582.1 2445.3 1581.5 2446 1581 C2446.7 1580.4 2447.3 1579.9 2448 1579.3 C2448.7 1578.7 2449.3 1578.2 2450 1577.6 C2450.7 1577 2451.3 1576.4 2452 1575.9 C2452.7 1575.3 2453.3 1574.7 2454 1574.2 C2454.7 1573.6 2455.3 1573 2456 1572.5 C2456.7 1572 2457.3 1571.4 2458 1570.9 C2458.7 1570.4 2459.3 1569.9 2460 1569.4 C2460.7 1568.9 2461.3 1568.4 2462 1568 C2462.7 1567.5 2463.3 1567.1 2464 1566.7 C2464.7 1566.3 2465.3 1565.9 2466 1565.6 C2466.7 1565.2 2467.3 1564.9 2468 1564.6 C2468.7 1564.3 2469.3 1564.1 2470 1563.8 C2470.7 1563.6 2471.3 1563.4 2472 1563.2 C2472.7 1563.1 2473.3 1562.9 2474 1562.9 C2474.7 1562.8 2475.3 1562.7 2476 1562.7 C2476.7 1562.6 2477.3 1562.6 2478 1562.7 C2478.7 1562.7 2479.3 1562.9 2480 1563 C2480.7 1563.2 2481.3 1563.4 2482 1563.6 C2482.7 1563.8 2483.3 1564.1 2484 1564.5 C2484.7 1564.8 2485.3 1565.2 2486 1565.6 C2486.7 1566 2487.3 1566.4 2488 1566.9 C2488.7 1567.4 2489.3 1567.9 2490 1568.5 C2490.7 1569 2491.3 1569.6 2492 1570.2 C2492.7 1570.8 2493.3 1571.4 2494 1572 C2494.7 1572.7 2495.3 1573.3 2496 1574 C2496.7 1574.6 2497.3 1575.3 2498 1576 C2498.7 1576.7 2499.3 1577.3 2500 1578 C2500.7 1578.7 2501.3 1579.3 2502 1580 C2502.7 1580.6 2503.3 1581.3 2504 1581.9 C2504.7 1582.6 2505.3 1583.2 2506 1583.8 C2506.7 1584.3 2507.3 1584.9 2508 1585.4 C2508.7 1586 2509.3 1586.5 2510 1586.9 C2510.7 1587.4 2511.3 1587.8 2512 1588.2 C2512.7 1588.6 2513.3 1589 2514 1589.3 C2514.7 1589.6 2515.3 1589.9 2516 1590.1 C2516.7 1590.3 2517.3 1590.5 2518 1590.7 C2518.7 1590.8 2519.3 1590.9 2520 1590.9 C2520.7 1591 2521.3 1590.9 2522 1590.9 C2522.7 1590.9 2523.3 1590.9 2524 1590.9 C2524.7 1590.9 2525.3 1590.9 2526 1590.9 C2526.7 1590.9 2527.3 1590.9 2528 1590.9 C2528.7 1590.9 2529.3 1590.9 2530 1590.9 C2530.7 1590.9 2531.3 1590.9 2532 1590.9 C2532.7 1590.9 2533.3 1590.9 2534 1590.9 C2534.7 1590.9 2535.3 1590.9 2536 1590.9 C2536.7 1590.9 2537.3 1590.9 2538 1590.9 C2538.7 1590.9 2539.3 1590.9 2540 1590.9 C2540.7 1590.9 2541.3 1590.9 2542 1590.9 C2542.7 1590.9 2543.3 1590.9 2544 1590.9 C2544.7 1590.9 2545.3 1590.9 2546 1590.9 C2546.7 1590.9 2547.3 1590.9 2548 1590.9 C2548.7 1590.9 2549.3 1590.9 2550 1590.9 C2550.7 1590.9 2551.3 1590.9 2552 1590.9 C2552.7 1590.9 2553.3 1590.9 2554 1590.9 C2554.7 1590.9 2555.3 1590.9 2556 1590.9 C2556.7 1590.9 2557.3 1590.8 2558 1590.8 C2558.7 1590.8 2559.3 1590.8 2560 1590.8 C2560.7 1590.8 2561.3 1590.8 2562 1590.8 C2562.7 1590.8 2563.3 1590.8 2564 1590.8 C2564.7 1590.8 2565.3 1590.8 2566 1590.8 C2566.7 1590.8 2567.3 1590.8 2568 1590.8 C2568.7 1590.8 2569.3 1590.8 2570 1590.8 C2570.7 1590.8 2571.3 1590.8 2572 1590.8 C2572.7 1590.8 2573.3 1590.8 2574 1590.8 C2574.7 1590.8 2575.3 1590.8 2576 1590.8 C2576.7 1590.8 2577.8 1590.8 2578 1590.8 C2578.1 1590.8 2578.1 1590.8 2578.1 1590.8" fill="none" stroke="#0c2460" stroke-width="5.8" stroke-linecap="round" stroke-linejoin="round"/>
<path d="M2306.8 1591.2 L2332.8 1437.5 L2373.1 1609.8 L2397.6 1590" fill="none" stroke="#ee661a" stroke-width="5.5" stroke-linecap="round" stroke-linejoin="round"/>
<path d="M180.2 1110.1 C187.9 1110.1 197.2 1110.5 203.2 1110.1 C207 1109.9 209.5 1109.7 212.5 1108.9 C215.5 1108.1 218.7 1106.7 221.2 1105.2 C223.4 1103.9 225.1 1102.3 227 1100.6 C229 1098.7 230.9 1096.2 232.9 1094.2 C234.8 1092.3 236.6 1090.1 238.7 1088.9 C240.7 1087.8 243.1 1087 245.1 1087.1 C246.9 1087.2 248.6 1087.8 250.3 1088.9 C252.4 1090.3 254.3 1093 256.2 1095.3 C258.2 1097.8 259.9 1101.2 262 1103.4 C263.8 1105.3 265.5 1107.1 267.8 1108.1 C270.3 1109.2 273.1 1109.2 276.5 1109.5 C281.2 1110 288.4 1109.9 293.2 1110.1 C296.8 1110.2 299.5 1110.3 302.7 1110.4" fill="none" stroke="#0c2460" stroke-width="5.5" stroke-linecap="round" stroke-linejoin="round"/>
<path d="M501.3 1109.2 C504.9 1114.8 508.4 1120.7 512 1126 C515.3 1130.9 518.5 1136.2 522 1140 C524.9 1143.2 527.9 1146.2 531 1147.8 C533.5 1149.1 536 1149.9 538.5 1149.8 C541 1149.7 543.6 1148.6 546 1147 C549.1 1145 552 1141.4 555 1138 C558.4 1134.2 561.5 1128.6 565 1125 C567.9 1122 570.1 1119.5 574 1117.5 C579.2 1114.7 585.6 1113 594.4 1111.7 C609.9 1109.4 637.8 1111 659.5 1110.7" fill="none" stroke="#0c2460" stroke-width="5.5" stroke-linecap="round" stroke-linejoin="round"/>
<path d="M302.7 1110.1 L378.7 1007.1 L403.6 1040.9 L440.2 976.1 L501.3 1109.2" fill="none" stroke="#ee661a" stroke-width="5.5" stroke-linecap="round" stroke-linejoin="round"/>
<path d="M2947.1 1110.1 C2954.3 1110.1 2963.1 1110.5 2968.7 1110.1 C2972.3 1109.9 2974.7 1109.7 2977.5 1108.9 C2980.3 1108.1 2983.3 1106.7 2985.6 1105.2 C2987.7 1103.9 2989.3 1102.3 2991.1 1100.6 C2993 1098.7 2994.8 1096.2 2996.6 1094.2 C2998.4 1092.3 3000.1 1090.1 3002.1 1088.9 C3003.9 1087.8 3006.2 1087 3008.1 1087.1 C3009.8 1087.2 3011.4 1087.8 3013 1088.9 C3015 1090.3 3016.8 1093 3018.5 1095.3 C3020.4 1097.8 3022 1101.2 3024 1103.4 C3025.7 1105.3 3027.3 1107.1 3029.4 1108.1 C3031.8 1109.2 3034.4 1109.2 3037.6 1109.5 C3042 1110 3048.3 1109.9 3053.3 1110.1 C3057.9 1110.2 3062.1 1110.3 3066.5 1110.4" fill="none" stroke="#0c2460" stroke-width="5.5" stroke-linecap="round" stroke-linejoin="round"/>
<path d="M3271.3 1114.8 C3272 1114.8 3272.6 1114.8 3273.3 1114.8 C3274 1114.8 3274.6 1114.8 3275.3 1114.8 C3276 1114.8 3276.6 1114.8 3277.3 1114.8 C3278 1114.8 3278.6 1114.8 3279.3 1114.8 C3280 1114.8 3280.6 1114.8 3281.3 1114.8 C3282 1114.8 3282.6 1114.8 3283.3 1114.8 C3284 1114.8 3284.6 1114.8 3285.3 1114.8 C3286 1114.8 3286.6 1114.8 3287.3 1114.8 C3288 1114.8 3288.6 1114.8 3289.3 1114.8 C3290 1114.8 3290.6 1114.8 3291.3 1114.8 C3292 1114.8 3292.6 1114.8 3293.3 1114.7 C3294 1114.6 3294.6 1114.4 3295.3 1114.2 C3296 1113.9 3296.6 1113.6 3297.3 1113.3 C3298 1113 3298.6 1112.5 3299.3 1112.1 C3300 1111.6 3300.6 1111.1 3301.3 1110.6 C3302 1110 3302.6 1109.4 3303.3 1108.7 C3304 1108.1 3304.6 1107.4 3305.3 1106.6 C3306 1105.9 3306.6 1105.1 3307.3 1104.3 C3308 1103.5 3308.6 1102.6 3309.3 1101.8 C3310 1100.9 3310.6 1100 3311.3 1099.1 C3312 1098.2 3312.6 1097.2 3313.3 1096.3 C3314 1095.4 3314.6 1094.4 3315.3 1093.5 C3316 1092.5 3316.6 1091.6 3317.3 1090.6 C3318 1089.7 3318.6 1088.8 3319.3 1087.8 C3320 1086.9 3320.6 1086 3321.3 1085.1 C3322 1084.2 3322.6 1083.4 3323.3 1082.5 C3324 1081.7 3324.6 1080.9 3325.3 1080.2 C3326 1079.4 3326.6 1078.7 3327.3 1078 C3328 1077.3 3328.6 1076.7 3329.3 1076.1 C3330 1075.5 3330.6 1074.9 3331.3 1074.4 C3332 1074 3332.6 1073.5 3333.3 1073.1 C3334 1072.8 3334.6 1072.4 3335.3 1072.2 C3336 1071.9 3336.6 1071.7 3337.3 1071.5 C3338 1071.4 3338.6 1071.3 3339.3 1071.3 C3340 1071.3 3340.6 1071.4 3341.3 1071.5 C3342 1071.7 3342.7 1072 3343.3 1072.3 C3344 1072.7 3344.7 1073.2 3345.3 1073.7 C3346 1074.2 3346.7 1074.9 3347.3 1075.6 C3348 1076.3 3348.6 1077.1 3349.3 1077.9 C3350 1078.8 3350.6 1079.7 3351.3 1080.7 C3352 1081.7 3352.6 1082.8 3353.3 1083.8 C3354 1084.9 3354.6 1086.1 3355.3 1087.2 C3356 1088.3 3356.6 1089.5 3357.3 1090.7 C3358 1091.9 3358.6 1093.1 3359.3 1094.3 C3360 1095.5 3360.6 1096.7 3361.3 1097.9 C3362 1099 3362.6 1100.2 3363.3 1101.3 C3364 1102.4 3364.6 1103.5 3365.3 1104.5 C3366 1105.5 3366.6 1106.5 3367.3 1107.4 C3368 1108.3 3368.6 1109.1 3369.3 1109.9 C3369.9 1110.6 3370.6 1111.3 3371.3 1111.9 C3371.9 1112.5 3372.6 1113 3373.3 1113.4 C3373.9 1113.8 3374.6 1114.2 3375.3 1114.4 C3376 1114.6 3376.6 1114.7 3377.3 1114.8 C3378 1114.9 3378.6 1114.8 3379.3 1114.8 C3380 1114.8 3380.6 1114.8 3381.3 1114.8 C3382 1114.8 3382.6 1114.8 3383.3 1114.8 C3384 1114.8 3384.6 1114.8 3385.3 1114.8 C3386 1114.8 3386.6 1114.8 3387.3 1114.8 C3388 1114.8 3388.6 1114.8 3389.3 1114.8 C3390 1114.8 3390.6 1114.8 3391.3 1114.8 C3392 1114.8 3392.6 1114.8 3393.3 1114.8 C3394 1114.8 3394.6 1114.8 3395.3 1114.8 C3396 1114.8 3396.6 1114.8 3397.3 1114.8 C3398 1114.8 3398.6 1114.8 3399.3 1114.8 C3400 1114.8 3400.6 1114.8 3401.3 1114.8 C3402 1114.8 3402.6 1114.8 3403.3 1114.8 C3404 1114.8 3404.6 1114.8 3405.3 1114.8 C3406 1114.8 3406.6 1114.8 3407.3 1114.8 C3408 1114.8 3408.6 1114.8 3409.3 1114.8 C3410 1114.8 3410.6 1114.8 3411.3 1114.8 C3412 1114.8 3412.6 1114.8 3413.3 1114.8 C3414 1114.8 3414.6 1114.8 3415.3 1114.8 C3416 1114.8 3416.6 1114.8 3417.3 1114.8 C3418 1114.8 3418.6 1114.8 3419.3 1114.8 C3420 1114.8 3420.6 1114.8 3421.3 1114.8 C3422 1114.8 3422.7 1114.8 3423.3 1114.8 C3423.9 1114.8 3424.4 1114.8 3424.9 1114.8" fill="none" stroke="#0c2460" stroke-width="5.5" stroke-linecap="round" stroke-linejoin="round"/>
<path d="M3066.5 1109.5 L3126.4 877.4 L3221.7 1144.2 L3271.3 1114.8" fill="none" stroke="#ee661a" stroke-width="5.5" stroke-linecap="round" stroke-linejoin="round"/>
<path d="M324.5 952.5 H435 M343.5 941.0 L324.5 952.5 L343.5 964.0 M416 941.0 L435 952.5 L416 964.0" fill="none" stroke="#39561f" stroke-width="4.8" stroke-linecap="round" stroke-linejoin="miter" stroke-miterlimit="8"/><path d="M3131 863.4 H3178.5 M3147.5 853.4 L3131 863.4 L3147.5 873.4 M3162.0 853.4 L3178.5 863.4 L3162.0 873.4" fill="none" stroke="#39561f" stroke-width="4.6" stroke-linecap="round" stroke-linejoin="miter" stroke-miterlimit="8"/>
<circle cx="1200" cy="352" r="22.6" fill="none" stroke="#39561f" stroke-width="3.8"/><circle cx="2355.9" cy="320.6" r="22.6" fill="none" stroke="#39561f" stroke-width="3.8"/>
<text x="244.3" y="98.2" font-family="Liberation Sans, sans-serif" font-weight="bold" font-size="76" fill="#0c2868" textLength="398.2" lengthAdjust="spacingAndGlyphs">Kompletter</text>
<text x="658.1" y="98.2" font-family="Liberation Sans, sans-serif" font-weight="bold" font-size="76" fill="#0c2868" textLength="693" lengthAdjust="spacingAndGlyphs">Linksschenkelblock</text>
<text x="2175.05" y="100" font-family="Liberation Sans, sans-serif" font-weight="bold" font-size="76" fill="#0c2868" textLength="397.2" lengthAdjust="spacingAndGlyphs">Kompletter</text>
<text x="2588.3" y="100" font-family="Liberation Sans, sans-serif" font-weight="bold" font-size="76" fill="#0c2868" textLength="753.4" lengthAdjust="spacingAndGlyphs">Rechtsschenkelblock</text>
<text x="873.2" y="389.5" font-family="Liberation Sans, sans-serif" font-weight="bold" font-size="83.5" fill="#0c2868">V</text><text transform="translate(927.1 389.5) scale(1.12 1)" x="0" y="0" font-family="Liberation Sans, sans-serif" font-weight="bold" font-size="67.3" fill="#0c2868">1</text>
<text x="1991.2" y="388.0" font-family="Liberation Sans, sans-serif" font-weight="bold" font-size="83.5" fill="#0c2868">V</text><text transform="translate(2045.1 388) scale(1.12 1)" x="0" y="0" font-family="Liberation Sans, sans-serif" font-weight="bold" font-size="67.3" fill="#0c2868">1</text>
<text x="873.2" y="634.1" font-family="Liberation Sans, sans-serif" font-weight="bold" font-size="83.5" fill="#0c2868">V</text><text transform="translate(928.9 634.1) scale(1.21 1)" x="0" y="0" font-family="Liberation Sans, sans-serif" font-weight="bold" font-size="68.2" fill="#0c2868">2</text>
<text x="1991.2" y="632.6" font-family="Liberation Sans, sans-serif" font-weight="bold" font-size="83.5" fill="#0c2868">V</text><text transform="translate(2046.9 632.6) scale(1.21 1)" x="0" y="0" font-family="Liberation Sans, sans-serif" font-weight="bold" font-size="68.2" fill="#0c2868">2</text>
<text x="873.2" y="877.7" font-family="Liberation Sans, sans-serif" font-weight="bold" font-size="83.5" fill="#0c2868">V</text><text transform="translate(929.1 889) scale(0.96 1)" x="0" y="0" font-family="Liberation Sans, sans-serif" font-weight="bold" font-size="83" fill="#0c2868">3</text>
<text x="1991.2" y="876.2" font-family="Liberation Sans, sans-serif" font-weight="bold" font-size="83.5" fill="#0c2868">V</text><text transform="translate(2047.1 887.5) scale(0.96 1)" x="0" y="0" font-family="Liberation Sans, sans-serif" font-weight="bold" font-size="83" fill="#0c2868">3</text>
<text x="873.2" y="1122.3" font-family="Liberation Sans, sans-serif" font-weight="bold" font-size="83.5" fill="#0c2868">V</text><text transform="translate(928.8 1132.7) scale(0.96 1)" x="0" y="0" font-family="Liberation Sans, sans-serif" font-weight="bold" font-size="82.4" fill="#0c2868">4</text>
<text x="1991.2" y="1120.8" font-family="Liberation Sans, sans-serif" font-weight="bold" font-size="83.5" fill="#0c2868">V</text><text transform="translate(2046.8 1131.2) scale(0.96 1)" x="0" y="0" font-family="Liberation Sans, sans-serif" font-weight="bold" font-size="82.4" fill="#0c2868">4</text>
<text x="873.2" y="1364.6" font-family="Liberation Sans, sans-serif" font-weight="bold" font-size="83.5" fill="#0c2868">V</text><text transform="translate(928.9 1376) scale(0.94 1)" x="0" y="0" font-family="Liberation Sans, sans-serif" font-weight="bold" font-size="83.8" fill="#0c2868">5</text>
<text x="1991.2" y="1363.1" font-family="Liberation Sans, sans-serif" font-weight="bold" font-size="83.5" fill="#0c2868">V</text><text transform="translate(2046.9 1374.5) scale(0.94 1)" x="0" y="0" font-family="Liberation Sans, sans-serif" font-weight="bold" font-size="83.8" fill="#0c2868">5</text>
<text x="873.2" y="1608.7" font-family="Liberation Sans, sans-serif" font-weight="bold" font-size="83.5" fill="#0c2868">V</text><text transform="translate(927.7 1608) scale(1.13 1)" x="0" y="0" font-family="Liberation Sans, sans-serif" font-weight="bold" font-size="81.6" fill="#0c2868">6</text>
<text x="1991.2" y="1607.2" font-family="Liberation Sans, sans-serif" font-weight="bold" font-size="83.5" fill="#0c2868">V</text><text transform="translate(2045.7 1606.5) scale(1.13 1)" x="0" y="0" font-family="Liberation Sans, sans-serif" font-weight="bold" font-size="81.6" fill="#0c2868">6</text>
<text x="52.9" y="1111.4" font-family="Liberation Sans, sans-serif" font-weight="bold" font-size="83.5" fill="#0c2868">V</text><text transform="translate(107.4 1110.7) scale(1.13 1)" x="0" y="0" font-family="Liberation Sans, sans-serif" font-weight="bold" font-size="81.6" fill="#0c2868">6</text>
<text x="2818.2" y="1111.4" font-family="Liberation Sans, sans-serif" font-weight="bold" font-size="83.5" fill="#0c2868">V</text><text transform="translate(2872.7 1110.7) scale(1.13 1)" x="0" y="0" font-family="Liberation Sans, sans-serif" font-weight="bold" font-size="81.6" fill="#0c2868">6</text>
<text x="254.4" y="743.2" font-family="Liberation Sans, sans-serif" font-weight="bold" font-size="50" fill="#0c2868" textLength="76.2" lengthAdjust="spacingAndGlyphs">V6:</text>
<text x="338.9" y="743.2" font-family="Liberation Sans, sans-serif" font-weight="bold" font-size="50" fill="#0c2868" textLength="155.4" lengthAdjust="spacingAndGlyphs">Später</text>
<text x="508.1" y="743.2" font-family="Liberation Sans, sans-serif" font-weight="bold" font-size="50" fill="#0c2868" textLength="17.1" lengthAdjust="spacingAndGlyphs">=</text>
<text x="165.6" y="801.7" font-family="Liberation Sans, sans-serif" font-weight="bold" font-size="50" fill="#0c2868" textLength="463" lengthAdjust="spacingAndGlyphs">Linksschenkelblock</text>
<text x="3020.3" y="743" font-family="Liberation Sans, sans-serif" font-weight="bold" font-size="50" fill="#0c2868" textLength="76.2" lengthAdjust="spacingAndGlyphs">V6:</text>
<text x="3104.2" y="743" font-family="Liberation Sans, sans-serif" font-weight="bold" font-size="50" fill="#0c2868" textLength="155" lengthAdjust="spacingAndGlyphs">Früher</text>
<text x="3271.6" y="743" font-family="Liberation Sans, sans-serif" font-weight="bold" font-size="50" fill="#0c2868" textLength="18.5" lengthAdjust="spacingAndGlyphs">=</text>
<text x="2910.5" y="801.6" font-family="Liberation Sans, sans-serif" font-weight="bold" font-size="50" fill="#0c2868" textLength="505" lengthAdjust="spacingAndGlyphs">Rechtsschenkelblock</text>
</svg>
</body></html>
